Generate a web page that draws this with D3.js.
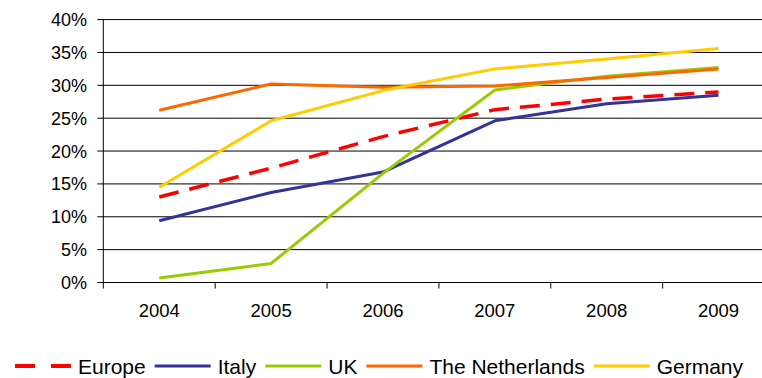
<!DOCTYPE html>
<html>
<head>
<meta charset="utf-8">
<script src="https://cdn.jsdelivr.net/npm/d3@7"></script>
<style>
  html, body { margin: 0; padding: 0; background: #fff; overflow: hidden; }
  svg { display: block; font-family: "Liberation Sans", Arial, sans-serif; }
</style>
</head>
<body>
<svg id="chart" width="762" height="378"></svg>
<script>
const years = ["2004", "2005", "2006", "2007", "2008", "2009"];
const yTicks = [0, 5, 10, 15, 20, 25, 30, 35, 40];
const seriesNames = ["Europe", "Italy", "UK", "The Netherlands", "Germany"];
const seriesColors = ["#FF0000", "#333399", "#99CC00", "#FF6600", "#FFCC00"];
const europe = [13.0, 17.4, 22.2, 26.3, 27.9, 29.0];
const italy = [9.4, 13.7, 16.8, 24.6, 27.2, 28.5];
const uk = [0.7, 2.9, 16.6, 29.3, 31.4, 32.7];
const netherlands = [26.2, 30.2, 29.7, 29.9, 31.2, 32.5];
const germany = [14.5, 24.6, 29.2, 32.5, 34.0, 35.6];
const seriesValues = [europe, italy, uk, netherlands, germany];

(function () {
const svg = d3.select("#chart");
const pLeft = 103.3, pRight = 774.5, pTop = 19.6, pBottom = 282.5;

const x = d3.scaleBand().domain(years).range([pLeft, pRight]).paddingInner(0).paddingOuter(0);
const y = d3.scaleLinear().domain([0, 40]).range([pBottom, pTop]);

// gridlines
svg.append("g")
  .selectAll("line")
  .data(yTicks)
  .join("line")
  .attr("x1", pLeft - 6)
  .attr("x2", pRight)
  .attr("y1", d => y(d))
  .attr("y2", d => y(d))
  .attr("stroke", "#000")
  .attr("stroke-width", 1);

// y axis line
svg.append("line")
  .attr("x1", pLeft).attr("x2", pLeft)
  .attr("y1", y(40)).attr("y2", pBottom)
  .attr("stroke", "#000").attr("stroke-width", 1);

// y labels
svg.append("g")
  .selectAll("text")
  .data(yTicks)
  .join("text")
  .attr("x", 87)
  .attr("y", d => y(d) + 6.5)
  .attr("text-anchor", "end")
  .attr("font-size", 18)
  .attr("fill", "#000")
  .text(d => d + "%");

// x ticks at band boundaries
const boundaries = years.map(d => x(d)).concat([x(years[years.length - 1]) + x.bandwidth()]);
svg.append("g")
  .selectAll("line")
  .data(boundaries)
  .join("line")
  .attr("x1", d => d).attr("x2", d => d)
  .attr("y1", pBottom).attr("y2", pBottom + 6)
  .attr("stroke", "#000").attr("stroke-width", 1);

// x labels
svg.append("g")
  .selectAll("text")
  .data(years)
  .join("text")
  .attr("x", d => x(d) + x.bandwidth() / 2)
  .attr("y", 317)
  .attr("text-anchor", "middle")
  .attr("font-size", 18.5)
  .attr("fill", "#000")
  .text(d => d);

// lines
const line = d3.line()
  .x((d, i) => x(years[i]) + x.bandwidth() / 2)
  .y(d => y(d));

seriesValues.forEach((vals, i) => {
  svg.append("path")
    .datum(vals)
    .attr("d", line)
    .attr("fill", "none")
    .attr("stroke", seriesColors[i])
    .attr("stroke-width", i === 0 ? 3.5 : 3)
    .attr("stroke-dasharray", i === 0 ? "20,11" : null)
    .attr("stroke-linejoin", "round");
});

// legend
const legend = svg.append("g");
const swW = 56, gapSwText = 7, gapItems = 9, legY = 366;
let cx = 0;
seriesNames.forEach((name, i) => {
  const g = legend.append("g").attr("transform", `translate(${cx},0)`);
  g.append("line")
    .attr("x1", 0).attr("x2", swW)
    .attr("y1", legY).attr("y2", legY)
    .attr("stroke", seriesColors[i])
    .attr("stroke-width", i === 0 ? 4 : 3)
    .attr("stroke-dasharray", i === 0 ? "20,16" : null);
  const t = g.append("text")
    .attr("x", swW + gapSwText)
    .attr("y", legY + 8)
    .attr("font-size", 21)
    .attr("fill", "#000")
    .text(name);
  cx += swW + gapSwText + t.node().getComputedTextLength() + gapItems;
});
const totalW = cx - gapItems;
legend.attr("transform", `translate(${(762 - totalW) / 2 - 2},0)`);
})();
</script>
</body>
</html>
